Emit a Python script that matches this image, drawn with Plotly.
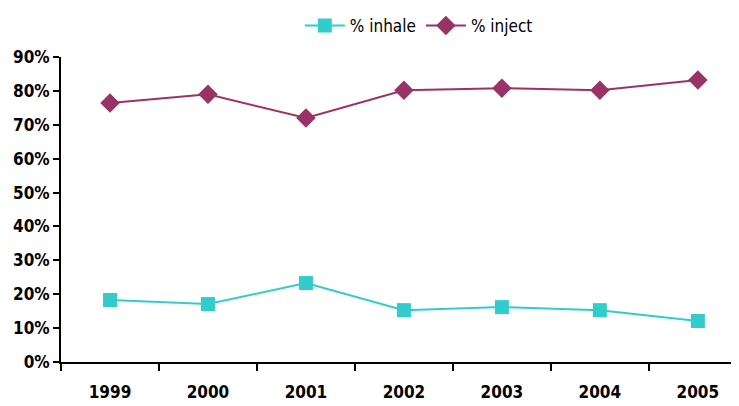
import plotly.graph_objects as go

years = ["1999", "2000", "2001", "2002", "2003", "2004", "2005"]
inhale = [18.3, 17.1, 23.3, 15.3, 16.2, 15.3, 12.1]
inject = [76.4, 79.0, 72.0, 80.2, 80.8, 80.2, 83.2]
y_ticks = [0, 10, 20, 30, 40, 50, 60, 70, 80, 90]

FONT = "DejaVu Sans Condensed, Liberation Sans Narrow, sans-serif"

fig = go.Figure()
fig.add_trace(go.Scatter(
    x=list(range(len(years))), y=inhale, name="% inhale", mode="lines+markers",
    line=dict(color="#33CCCC", width=2),
    marker=dict(symbol="square", size=14, color="#33CCCC"),
))
fig.add_trace(go.Scatter(
    x=list(range(len(years))), y=inject, name="% inject", mode="lines+markers",
    line=dict(color="#993366", width=2),
    marker=dict(symbol="diamond", size=15, color="#993366"),
))

# page has an 8px body margin, so the figure is sized to end at the window edge
fig.update_layout(
    width=731, height=398,
    margin=dict(l=53, r=0, t=49, b=44, autoexpand=False),
    paper_bgcolor="white", plot_bgcolor="white",
    font=dict(family=FONT, size=17, color="black"),
    showlegend=True,
    legend=dict(orientation="h", x=0.562, xanchor="center", xref="container",
                y=1.0, yanchor="top", yref="container",
                font=dict(family=FONT, size=17, color="black", weight=500),
                itemwidth=40, tracegroupgap=0),
    xaxis=dict(
        range=[-0.5, 6.42], tickmode="array",
        tickvals=list(range(len(years))), ticktext=years,
        showgrid=False, zeroline=False, showline=True, linecolor="black", linewidth=2,
        ticks="", tickfont=dict(family=FONT, size=17, color="black", weight="bold"),
        ticklabelstandoff=14, automargin=False,
        minor=dict(tickvals=[i - 0.5 for i in range(len(years) + 1)], ticks="outside",
                   ticklen=7, tickwidth=2, tickcolor="black"),
    ),
    yaxis=dict(
        range=[0, 90], tickmode="array", tickvals=y_ticks,
        ticktext=[f"{v}%" for v in y_ticks],
        showgrid=False, zeroline=False, showline=True, linecolor="black", linewidth=2,
        ticks="outside", ticklen=6, tickwidth=2, tickcolor="black", automargin=False,
        tickfont=dict(family=FONT, size=17, color="black", weight="bold"),
    ),
)

fig.write_html("out.html")
